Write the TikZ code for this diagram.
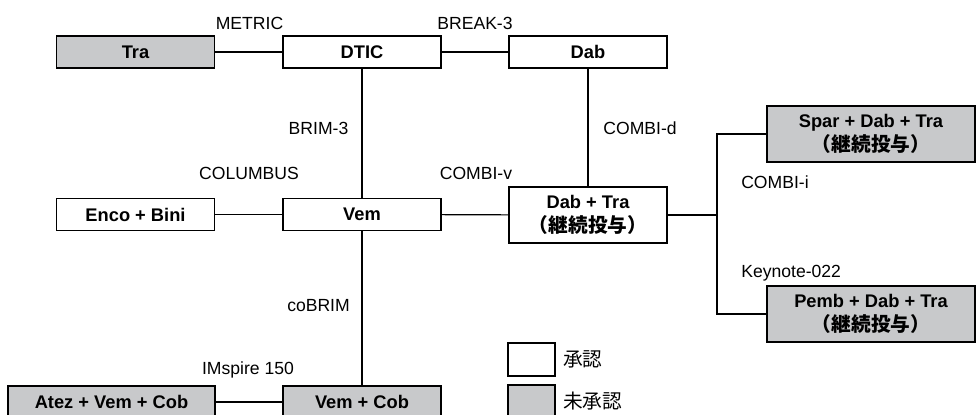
\documentclass[tikz,border=0pt]{standalone}
\usepackage{fontspec}
\setmainfont{Liberation Sans}
\newfontfamily\jpfont{Noto Sans CJK JP}
\definecolor{unapproved}{RGB}{200,201,203}

\begin{document}
\begin{tikzpicture}[
    x=0.025cm, y=-0.025cm,
    font=\fontsize{12.5}{14}\selectfont,
    drug/.style={draw, line width=0.8pt, fill=white, minimum width=3.95cm,
        minimum height=0.8cm, inner sep=0pt, align=center,
        font=\fontsize{13}{17}\selectfont\bfseries},
    pending/.style={drug, fill=unapproved},
    trial/.style={inner sep=0pt},
    link/.style={line width=0.8pt},
    cont/.style={font=\jpfont\bfseries\fontsize{14}{17}\selectfont}
]
    \useasboundingbox (0,0) rectangle (977,414);

    % Top row
    \node[pending] (tra) at (135.5,52) {Tra};
    \node[drug] (dtic) at (362,52) {DTIC};
    \node[drug] (dab) at (588,52) {Dab};

    % Middle row
    \node[drug] (enco) at (135.5,214.5) {Enco + Bini};
    \node[drug] (vem) at (362,214.5) {Vem};
    \node[drug, minimum height=1.4cm] (dabtra) at (588,215)
        {Dab + Tra\\{\jpfont\fontsize{14}{17}\selectfont （継続投与）}};

    % Right branch
    \node[pending, minimum width=5.2cm, minimum height=1.4cm] (spar) at (871,134)
        {Spar + Dab + Tra\\{\jpfont\fontsize{14}{17}\selectfont （継続投与）}};
    \node[pending, minimum width=5.2cm, minimum height=1.4cm] (pemb) at (871,314)
        {Pemb + Dab + Tra\\{\jpfont\fontsize{14}{17}\selectfont （継続投与）}};
    \coordinate (split) at (717,215);

    % Bottom row
    \node[pending, minimum width=5.175cm] (atez) at (111.5,402) {Atez + Vem + Cob};
    \node[pending] (vemcob) at (362,402) {Vem + Cob};

    % Connectors
    \draw[link] (tra) -- (dtic);
    \draw[link] (dtic) -- (dab);
    \draw[link] (dtic) -- (vem);
    \draw[link] (dab) -- (dabtra);
    \draw[link] (enco) -- (vem);
    \draw[link] (vem) -- (dabtra);
    \draw[link] (vem) -- (vemcob);
    \draw[link] (atez) -- (vemcob);
    \draw[link] (dabtra) -- (split);
    \draw[link] (spar.west) -| (split) |- (pemb.west);

    % Trial labels
    \node[trial] (metric) at (249.5,23) {METRIC};
    \node[trial] (break) at (475,23) {BREAK-3};
    \node[trial] (brim) at (318.5,128) {BRIM-3};
    \node[trial] (columbus) at (249,173) {COLUMBUS};
    \node[trial] (combiv) at (476,173) {COMBI-v};
    \node[trial] (combid) at (640,128) {COMBI-d};
    \node[trial, anchor=west] (combii) at (741,182) {COMBI-i};
    \node[trial, anchor=west] (keynote) at (741,273) {Keynote-022};
    \node[trial] (cobrim) at (318.5,306) {coBRIM};
    \node[trial] (imspire) at (248,370) {IMspire 150};

    % Legend
    \node[draw, line width=0.8pt, fill=white, minimum width=1.175cm,
        minimum height=0.825cm] (keyok) at (531.5,359.5) {};
    \node[draw, line width=0.8pt, fill=unapproved, minimum width=1.175cm,
        minimum height=0.825cm] (keyno) at (531.5,401.5) {};
    \node[anchor=west, inner sep=0pt, font=\jpfont\fontsize{14}{16}\selectfont]
        (keyoktext) at (563,359) {承認};
    \node[anchor=west, inner sep=0pt, font=\jpfont\fontsize{14}{16}\selectfont]
        (keynotext) at (563,401) {未承認};
\end{tikzpicture}
\end{document}
